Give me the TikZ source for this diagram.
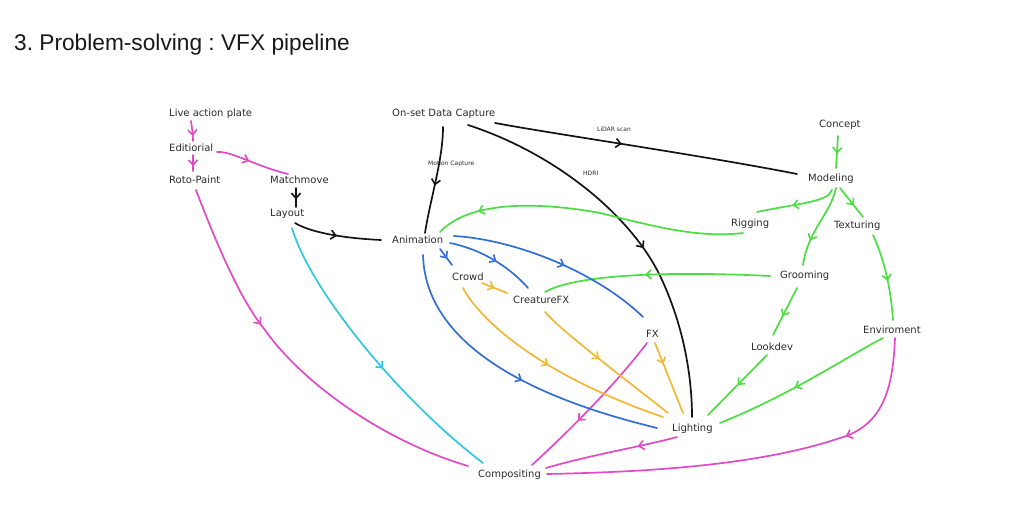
\documentclass[tikz,border=0pt]{standalone}
\usepackage{fontspec}
\newfontfamily\lblfont{DejaVu Sans}
\newfontfamily\ttlfont{Liberation Sans}
\usetikzlibrary{arrows.meta,decorations.markings}
\frenchspacing
\definecolor{mag}{RGB}{226,74,199}
\definecolor{grn}{RGB}{75,222,65}
\definecolor{blu}{RGB}{50,110,215}
\definecolor{org}{RGB}{240,184,52}
\definecolor{cyn}{RGB}{48,200,222}
\definecolor{blk}{RGB}{20,20,20}
\definecolor{txt}{RGB}{45,45,45}
\tikzset{
  lbl/.style={anchor=base west, inner sep=0pt, text=txt, font=\lblfont\fontsize{10}{12}\selectfont},
  tiny/.style={anchor=base west, inner sep=0pt, text=txt, font=\lblfont\fontsize{6}{7}\selectfont},
  con/.style={line width=1.7pt, line cap=round, line join=round},
  midarr/.style={postaction={decorate}, decoration={markings, mark=at position #1 with {\arrow{Straight Barb[length=5pt,width=9pt,line width=1.6pt]}}}},
}
\begin{document}
\begin{tikzpicture}[x=1pt,y=-1pt]
\path[use as bounding box, fill=white] (0,0) rectangle (1024,510);
\node[anchor=base west, inner sep=0pt, text=black!90, font=\ttlfont\fontsize{22.7}{26}\selectfont] (title) at (14,51) {3. Problem-solving : VFX pipeline};

% nodes
\node[lbl] (live) at (169,117) {Live action plate};
\node[lbl] (edit) at (169,152) {Editiorial};
\node[lbl] (roto) at (169,184) {Roto-Paint};
\node[lbl] (match) at (270,184) {Matchmove};
\node[lbl] (layout) at (270,217) {Layout};
\node[lbl] (onset) at (392,117) {On-set Data Capture};
\node[lbl] (anim) at (392,244) {Animation};
\node[lbl] (concept) at (819,128) {Concept};
\node[lbl] (model) at (808,182) {Modeling};
\node[lbl] (rig) at (731,227) {Rigging};
\node[lbl] (tex) at (834,229) {Texturing};
\node[lbl] (groom) at (780,279) {Grooming};
\node[lbl] (look) at (751,350) {Lookdev};
\node[lbl] (env) at (863,333) {Enviroment};
\node[lbl] (crowd) at (452,280) {Crowd};
\node[lbl] (cfx) at (513,303) {CreatureFX};
\node[lbl] (fx) at (646,337) {FX};
\node[lbl] (light) at (672,431) {Lighting};
\node[lbl] (comp) at (478,477) {Compositing};
\node[tiny] (mocap) at (428,166) {Motion Capture};
\node[tiny] (lidar) at (597,132) {LiDAR scan};
\node[tiny] (hdri) at (583,176) {HDRI};

% magenta
\draw[con,mag,midarr=0.75] ([shift={(22,4)}]live.base west) .. controls (192,128) and (193,135) .. ([shift={(24,-11)}]edit.base west);
\draw[con,mag,midarr=0.7] ([shift={(24,3)}]edit.base west) -- ([shift={(24,-13)}]roto.base west);
\draw[con,mag,midarr=0.45] ([shift={(48,0)}]edit.base west) .. controls (232,151) and (255,166) .. ([shift={(18,-10)}]match.base west);
\draw[con,mag,midarr=0.37] ([shift={(27,6)}]roto.base west) .. controls (215,240) and (240,300) .. (265,330) .. controls (300,380) and (380,440) .. ([shift={(-10,-11)}]comp.base west);
\draw[con,mag,midarr=0.62] ([shift={(1,6)}]fx.base west) .. controls (615,385) and (570,430) .. ([shift={(54,-12)}]comp.base west);
\draw[con,mag,midarr=0.3] ([shift={(5,6)}]light.base west) .. controls (640,447) and (590,455) .. ([shift={(68,-9)}]comp.base west);
\draw[con,mag,midarr=0.28] ([shift={(32,5)}]env.base west) .. controls (893,385) and (885,425) .. (840,438) .. controls (760,465) and (650,472) .. ([shift={(69,-3)}]comp.base west);

% black
\draw[con,blk,midarr=0.6] ([shift={(26,4)}]match.base west) -- ([shift={(26,-10)}]layout.base west);
\draw[con,blk,midarr=0.5] ([shift={(25,6)}]layout.base west) .. controls (310,232) and (340,238) .. ([shift={(-11,-4)}]anim.base west);
\draw[con,blk,midarr=0.55] ([shift={(51,10)}]onset.base west) .. controls (443,160) and (430,200) .. ([shift={(33,-11)}]anim.base west);
\draw[con,blk,midarr=0.42] ([shift={(103,6)}]onset.base west) .. controls (560,135) and (700,155) .. ([shift={(-11,-8)}]model.base west);
\draw[con,blk,midarr=0.55] ([shift={(76,8)}]onset.base west) .. controls (560,155) and (635,220) .. (662,280) .. controls (685,330) and (692,380) .. ([shift={(20,-14)}]light.base west);

% green
\draw[con,grn,midarr=0.55] ([shift={(19,8)}]concept.base west) -- ([shift={(28,-14)}]model.base west);
\draw[con,grn,midarr=0.55] ([shift={(24,8)}]model.base west) .. controls (828,202) and (800,203) .. ([shift={(26,-15)}]rig.base west);
\draw[con,grn,midarr=0.7] ([shift={(28,6)}]model.base west) .. controls (830,215) and (808,230) .. ([shift={(23,-14)}]groom.base west);
\draw[con,grn,midarr=0.6] ([shift={(32,6)}]model.base west) -- ([shift={(29,-12)}]tex.base west);
\draw[con,grn,midarr=0.55] ([shift={(39,6)}]tex.base west) .. controls (882,255) and (890,280) .. ([shift={(30,-13)}]env.base west);
\draw[con,grn,midarr=0.86] ([shift={(12,6)}]rig.base west) .. controls (700,238) and (660,228) .. (600,213) .. controls (540,202) and (470,200) .. ([shift={(48,-12)}]anim.base west);
\draw[con,grn,midarr=0.55] ([shift={(-10,-3)}]groom.base west) .. controls (690,272) and (580,272) .. ([shift={(32,-11)}]cfx.base west);
\draw[con,grn,midarr=0.6] ([shift={(17,9)}]groom.base west) -- ([shift={(22,-15)}]look.base west);
\draw[con,grn,midarr=0.5] ([shift={(16,5)}]look.base west) -- ([shift={(36,-16)}]light.base west);
\draw[con,grn,midarr=0.55] ([shift={(20,5)}]env.base west) .. controls (850,355) and (790,395) .. ([shift={(48,-8)}]light.base west);

% blue
\draw[con,blu,midarr=0.6] ([shift={(48,5)}]anim.base west) -- ([shift={(0,-15)}]crowd.base west);
\draw[con,blu,midarr=0.55] ([shift={(58,-1)}]anim.base west) .. controls (475,248) and (505,262) .. ([shift={(15,-15)}]cfx.base west);
\draw[con,blu,midarr=0.55] ([shift={(62,-8)}]anim.base west) .. controls (520,240) and (600,275) .. ([shift={(-3,-20)}]fx.base west);
\draw[con,blu,midarr=0.54] ([shift={(31,11)}]anim.base west) .. controls (425,330) and (500,390) .. ([shift={(-15,-3)}]light.base west);

% orange
\draw[con,org,midarr=0.5] ([shift={(30,3)}]crowd.base west) -- ([shift={(-6,-10)}]cfx.base west);
\draw[con,org,midarr=0.48] ([shift={(11,8)}]crowd.base west) .. controls (480,320) and (540,375) .. ([shift={(-9,-14)}]light.base west);
\draw[con,org,midarr=0.45] ([shift={(32,9)}]cfx.base west) .. controls (560,330) and (620,375) .. ([shift={(-4,-18)}]light.base west);
\draw[con,org,midarr=0.3] ([shift={(9,6)}]fx.base west) -- ([shift={(11,-18)}]light.base west);

% cyan
\draw[con,cyn,midarr=0.55] ([shift={(22,11)}]layout.base west) .. controls (310,290) and (400,400) .. ([shift={(5,-14)}]comp.base west);
\end{tikzpicture}
\end{document}
